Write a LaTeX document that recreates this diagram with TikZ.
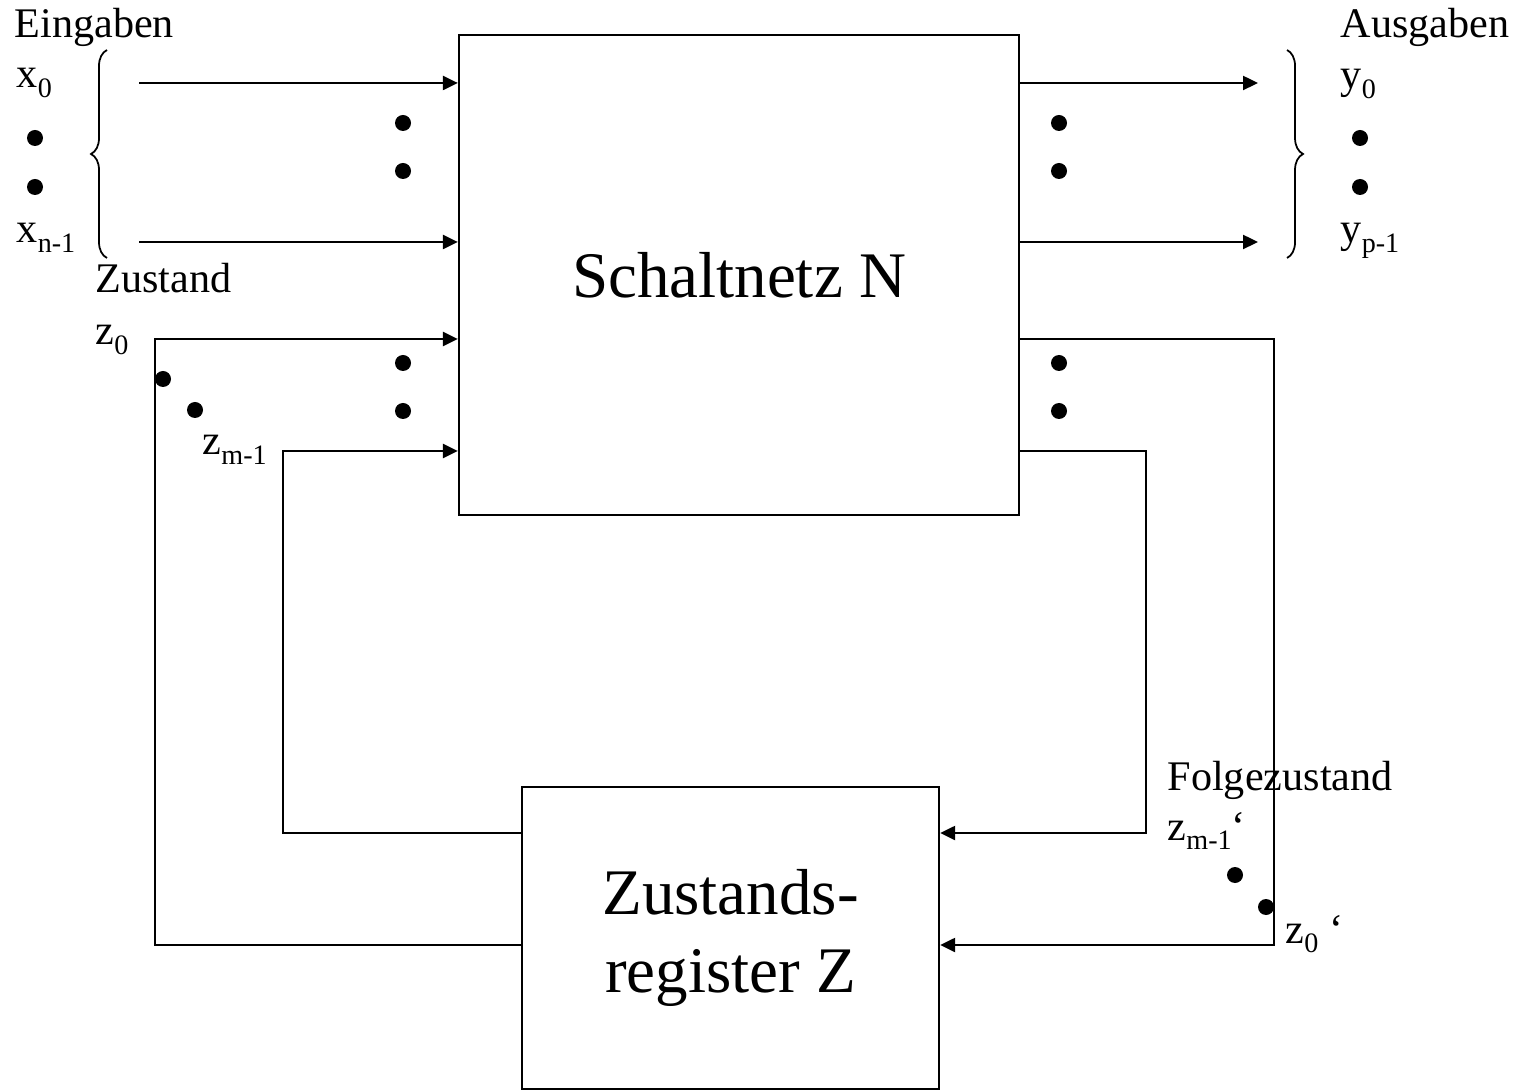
\documentclass[tikz,border=0pt]{standalone}
\usepackage{fontspec}
\setmainfont{Liberation Serif}
\usetikzlibrary{arrows.meta,decorations.pathreplacing}
\newcommand{\idx}[1]{\raisebox{-2.8pt}{\fontsize{8}{9}\selectfont #1}}
\tikzstyle{netBlock} = [rectangle, draw, line width=0.65pt, inner sep=0pt,
    align=center, font=\fontsize{18.5}{22}\selectfont]
\tikzstyle{signal} = [anchor=base west, inner sep=0pt, font=\fontsize{12}{14}\selectfont]
\tikzstyle{bigDot} = [circle, fill, inner sep=0pt, minimum size=0.16cm]
\tikzstyle{conversion} = [draw, line width=0.65pt, -{Triangle[length=1.5mm,width=1.4mm]}]
\tikzstyle{group} = [draw, line width=0.5pt, decorate, decoration={brace, amplitude=0.16cm}]

\begin{document}
\begin{tikzpicture}
    \useasboundingbox (0,0) rectangle (15.31,10.91);
    % Place nodes
    \node[netBlock, minimum width=5.60cm, minimum height=4.80cm](N) at (7.39,8.16){Schaltnetz N};
    \node[netBlock, minimum width=4.17cm, minimum height=3.02cm](Z) at (7.305,1.53){Zustands-\\register Z};

    \node[signal](eingaben) at (0.14,10.53){Eingaben};
    \node[signal](x0) at (0.16,10.03){x\idx{0}};
    \node[signal](xn) at (0.16,8.48){x\idx{n-1}};
    \node[signal](zustand) at (0.95,7.98){Zustand};
    \node[signal](z0) at (0.95,7.46){z\idx{0}};
    \node[signal](zm) at (2.02,6.36){z\idx{m-1}};
    \node[signal](ausgaben) at (13.40,10.53){Ausgaben};
    \node[signal](y0) at (13.40,10.02){y\idx{0}};
    \node[signal](yp) at (13.40,8.48){y\idx{p-1}};
    \node[signal](folge) at (11.67,3.01){Folgezustand};
    \node[signal](zmNext) at (11.67,2.51){z\idx{m-1}‘};
    \node[signal](z0Next) at (12.85,1.48){z\idx{0} ‘};

    % dots for the left out lines
    \node[bigDot](xDotA) at (0.35,9.53){};
    \node[bigDot](xDotB) at (0.35,9.04){};
    \node[bigDot](yDotA) at (13.60,9.53){};
    \node[bigDot](yDotB) at (13.60,9.04){};
    \node[bigDot](inDotA) at (4.03,9.68){};
    \node[bigDot](inDotB) at (4.03,9.20){};
    \node[bigDot](outDotA) at (10.59,9.68){};
    \node[bigDot](outDotB) at (10.59,9.20){};
    \node[bigDot](zInDotA) at (4.03,7.28){};
    \node[bigDot](zInDotB) at (4.03,6.80){};
    \node[bigDot](zOutDotA) at (10.59,7.28){};
    \node[bigDot](zOutDotB) at (10.59,6.80){};
    \node[bigDot](zDotA) at (1.63,7.12){};
    \node[bigDot](zDotB) at (1.95,6.81){};
    \node[bigDot](zNextDotA) at (12.35,2.16){};
    \node[bigDot](zNextDotB) at (12.66,1.84){};

    % free ends and bends of the lines
    \coordinate (x0src) at (1.39,10.08);
    \coordinate (xnsrc) at (1.39,8.49);
    \coordinate (y0dst) at (12.58,10.08);
    \coordinate (ypdst) at (12.58,8.49);
    \coordinate (z0bend) at (1.55,7.52);
    \coordinate (zmbend) at (2.83,6.40);
    \coordinate (z0back) at (12.74,1.46);
    \coordinate (zmback) at (11.46,2.58);

    % Draw edges
    \path[conversion] (x0src) -- (x0src -| N.west);
    \path[conversion] (xnsrc) -- (xnsrc -| N.west);
    \path[conversion] (y0dst -| N.east) -- (y0dst);
    \path[conversion] (ypdst -| N.east) -- (ypdst);
    \path[conversion] (Z.west |- z0back) -| (z0bend) -- (z0bend -| N.west);
    \path[conversion] (Z.west |- zmback) -| (zmbend) -- (zmbend -| N.west);
    \path[conversion] (N.east |- z0bend) -| (z0back) -- (z0back -| Z.east);
    \path[conversion] (N.east |- zmbend) -| (zmback) -- (zmback -| Z.east);

    \path[group] (1.07,8.33) -- (1.07,10.41);
    \path[group] (12.87,10.41) -- (12.87,8.33);
\end{tikzpicture}
\end{document}
